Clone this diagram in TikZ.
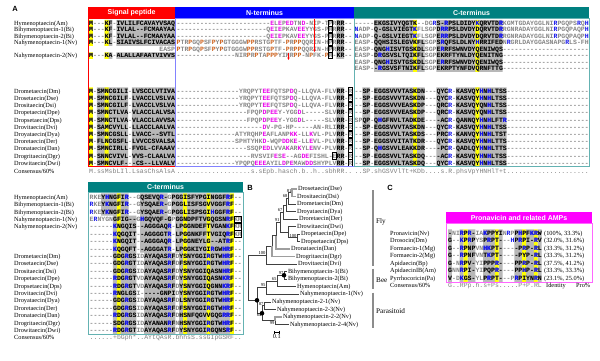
\documentclass[tikz,border=0pt]{standalone}
\usepackage{fontspec}
\setmainfont{Liberation Serif}
\setsansfont{Liberation Sans}
\setmonofont{Liberation Mono}
\usetikzlibrary{arrows.meta}

\definecolor{sigred}{RGB}{255,0,0}
\definecolor{ntblue}{RGB}{0,0,255}
\definecolor{ntline}{RGB}{130,130,255}
\definecolor{ctteal}{RGB}{0,128,128}
\definecolor{ctline}{RGB}{100,178,178}
\definecolor{ampmag}{RGB}{255,0,255}
\definecolor{shadegray}{RGB}{184,184,184}
\definecolor{consyel}{RGB}{255,255,0}
\definecolor{accmag}{RGB}{235,0,235}
\definecolor{basblue}{RGB}{20,20,235}
\definecolor{probrown}{RGB}{205,95,25}

% residue colours
\newcommand\cm[1]{\textcolor{accmag}{#1}}
\newcommand\cb[1]{\textcolor{basblue}{#1}}
\newcommand\co[1]{\textcolor{probrown}{#1}}
\def\seqrep#1#2{\ifnum#1>0 #2\expandafter\seqrep\expandafter{\the\numexpr#1-1\relax}{#2}\fi}
\newcommand\dsh[1]{\seqrep{#1}{-}}
\newcommand\dts[1]{\seqrep{#1}{.}}
\newcommand\pw{3.9}

\newcommand\seqfont{\fontsize{6.5bp}{7bp}\selectfont\ttfamily\bfseries}
\newcommand\consfont{\fontsize{6.5bp}{7bp}\selectfont\ttfamily}
\newcommand\labfont{\fontsize{6.3bp}{7bp}\selectfont\rmfamily}
\newcommand\hdrfont{\fontsize{7bp}{8bp}\selectfont\sffamily\bfseries}
\newcommand\panelfont{\fontsize{7.5bp}{8bp}\selectfont\sffamily\bfseries}
\newcommand\bootfont{\fontsize{4.6bp}{5bp}\selectfont\rmfamily}
\newcommand\cladefont{\fontsize{7.2bp}{8bp}\selectfont\rmfamily}

\newcommand\putrows[4]{\foreach \yy/\sq [count=\rk] in #1 {\node[#2] (#3\rk) at (#4,\yy+2.2) {\sq};}}

\tikzset{
  seqbase/.style={anchor=base west, inner sep=0pt, font=\seqfont, text=black!48},
  seqdark/.style={seqbase, text=black},
  seqcons/.style={anchor=base west, inner sep=0pt, font=\consfont, text=black!50},
  lab/.style={anchor=base west, inner sep=0pt, font=\labfont},
  hdr/.style={inner sep=0pt, font=\hdrfont, text=white, minimum height=11bp},
  plabel/.style={inner sep=0pt, font=\panelfont},
  leaf/.style={anchor=west, inner sep=0.8bp, font=\labfont},
  boot/.style={anchor=south east, inner sep=0.4bp, font=\bootfont},
  bootlow/.style={boot, anchor=north east},
  branch/.style={draw=black!75, line width=0.6bp},
  lightbranch/.style={draw=black!38, line width=1.1bp},
  cladebar/.style={draw=black!45, line width=1.2bp},
  clade/.style={anchor=west, inner sep=0pt, font=\cladefont},
  node dot/.style={circle, fill=black, inner sep=0pt, minimum size=4.6bp},
  cellbox/.style={draw=black, line width=0.45bp},
  cutarrow/.style={-{Stealth[length=2.6bp,width=2.4bp]}, draw=red, line width=0.6bp},
}

% shaded columns: x0/first col/last col/top/bottom
\def\grayList{89/4/5/19.75/45.75, 89/7/21/19.75/45.75, 89/4/5/52.25/58.75, 89/7/21/52.25/58.75,
89/2/9/87.4/166.6, 89/11/21/87.4/166.6,
176.5/41/42/19.75/58.75, 176.5/41/42/87.4/166.6,
354.5/5/14/19.75/39.25, 354.5/21/37/19.75/39.25,
354.5/5/17/39.25/71.75, 354.5/21/37/39.25/71.75,
354.5/2/3/87.4/166.6, 354.5/5/17/87.4/166.6, 354.5/21/23/87.4/166.6, 354.5/26/38/87.4/166.6,
89.5/3/9/193.3/215.5, 89.5/13/19/193.3/215.5, 89.5/21/35/193.3/215.5,
89.5/6/11/215.5/252.5, 89.5/13/20/215.5/252.5, 89.5/22/35/215.5/252.5,
89.5/6/11/252.5/333.9, 89.5/14/21/252.5/333.9, 89.5/23/35/252.5/333.9,
448/0/0/229.25/281.75, 448/3/3/229.25/281.75, 448/5/6/229.25/281.75, 448/9/11/229.25/281.75,
448/13/13/229.25/281.75, 448/17/18/229.25/281.75, 448/20/21/229.25/281.75, 448/23/23/229.25/281.75}
\def\yelList{89/0/0/19.75/45.75, 89/4/4/19.75/45.75, 89/0/0/52.25/58.75, 89/4/4/52.25/58.75,
89/0/0/87.4/166.6, 89/4/4/87.4/166.6,
354.5/15/15/19.75/71.75, 354.5/31/31/19.75/71.75, 354.5/15/15/87.4/166.6, 354.5/31/31/87.4/166.6,
89.5/7/7/193.3/333.9, 89.5/24/24/193.3/333.9, 89.5/30/30/193.3/333.9, 89.5/36/36/193.3/333.9,
448/4/4/229.25/281.75, 448/12/12/229.25/281.75, 448/19/19/229.25/281.75, 448/22/22/229.25/281.75}

% signal peptide
\def\blkA{23/M---KF-IVLILFCAVAYVSAQ,
29.5/M---KF-IVLAL--FCMAAYAA,
36/M---KF-IVLAL--FCMAAYAA,
42.5/M---KL-SIAIVSLFCIVACAS,
55.5/M---KA-ALALLAFAATVIVVS,
91/M-SMNCGILI-LVSCCLVTIVA,
98.2/M-SMNCGILF-LVACCLVSLVA,
105.4/M-SMNCGILF-LVACCLVSLVA,
112.6/M-SMNCTLVA-VLACCLALVSA,
119.8/M-SMNCTLVA-VLACCLAVVSA,
127/M-SAMCVYLL-LLACCLAALVA,
134.2/M-SMNCGSLL-LVACC--SVTL,
141.4/M-FLNCGSFL-LVVCCSVALSA,
148.6/M-SMNCIRLL-FVGL-CFAAAV,
155.8/M-SNNCVIVL-VVS-CLAALVA,
163/M-SMNCVLF---CS--LLVALV}

% N-terminus
\def\blkB{23/\dsh{24}\cm{E}L\cm{E}P\cm{ED}TN\cm{D}-NIP-TPRRR--,
29.5/\dsh{23}Q\cm{E}I\cm{E}PKAV\cm{EE}YYGS-PRRRR--,
36/\dsh{23}Q\cm{E}I\cm{E}PKAV\cm{EE}YYGS-PRRRR--,
42.5/\co{P}TR\co{P}GQ\co{P}SF\co{P}Y\co{P}GTGGGW\co{PP}RSTG\co{P}TF-\co{P}R\co{PP}QQRIN-HPRRR--,
49/\co{P}TR\co{P}GQ\co{P}SF\co{P}Y\co{P}GTGGGW\co{PP}RSTG\co{P}TF-\co{P}R\co{PP}QQRIN-HPRRR--,
55.5/\dsh{15}NIR\co{P}R\co{P}TA\co{PPP}YINR\co{PP}-N\co{P}FK-\co{P}R-KR--,
91/\dsh{16}YRQPYT\cm{EE}FQTSP\cm{D}Q-LLQVA-FLVRR-R,
98.2/\dsh{16}YRQPYT\cm{EE}FQTSP\cm{D}Q-LLQVA-FLVRR-R,
105.4/\dsh{16}YRQPYT\cm{EE}FQTSP\cm{D}Q-LLQVA-FLVRR-R,
112.6/\dsh{18}FPQP\cm{D}P\cm{EE}Y-YGG\cm{D}L-----SLVRR-R,
119.8/\dsh{18}FPQP\cm{D}P\cm{EE}Y-YGG\cm{D}L-----SLVRR-R,
127/\dsh{22}\cm{D}V-PG-HP-----AN-RLIRR-R,
134.2/\dsh{15}ATYRQHP\cm{E}AFLANP\cm{KK}-LL\cm{K}VL-PLVRR-R,
141.4/\dsh{15}SPHTYHK\cm{D}-WQP\cm{DD}K\cm{E}-LL\cm{E}VL-PLVRR-R,
148.6/\dsh{18}SSQP\cm{ED}LVVA\cm{K}AR\cm{K}YL\cm{E}NV-PLVRR-R,
155.8/\dsh{19}RVSVIF\cm{E}S\cm{E}--AG\cm{DE}FISHL-ERR-R,
163/\dsh{15}YPQPQ\cm{EEE}AYIL\cm{D}P\cm{E}MAW\cm{DD}SHYPLVRR-R}

% C-terminus, upper part
\def\blkC{23/\dsh{5}EKGSIVYQGTK--DG\cb{R}S-\cb{R}PSLDIDY\cb{K}QRVTD\cb{R}KGMTGDAYGGLNI\cb{R}PGQPS\cb{R}Q\cb{H},
29.5/\cb{N}ADP-Q-GSLVIEGT\cb{K}FLSGPD\cb{RR}PSLDVDYDQRVTD\cb{R}RGNRADAYGGLNI\cb{R}PGQPAQP\cb{H},
36/\cb{N}ADP-Q-GSLVIEGT\cb{K}FLSGPE\cb{RR}PSLDVDYDQRVTD\cb{R}RGNRADAYGGLNI\cb{R}PGQPAQP\cb{H},
42.5/EASP-QQHSISLEGVKFLSGPS\cb{R}QFSLDLNY\cb{H}RRIFEDN\cb{R}GRLDAYGGASNAPG\cb{R}LS-FH,
49/EASP-QNG\cb{H}ISVTGSKDLSGPE\cb{R}RFSWNVDYQENIWQS\dsh{22},
55.5/EASP-D\cb{R}GSVSLTQIKFLSGPEKRFTYNLDYQENITNG\dsh{22},
62/EASP-QNG\cb{H}ISVTGSKDLSGPE\cb{R}RFSWNVDYQENIWQS\dsh{22},
68.5/EASP--\cb{R}GSVSFTNIKFLSGPEKRPTYNFDVQRNFTTG\dsh{22},
91/--SP-EGGSVVVTASKDN---QYC\cb{R}-KASVQY\cb{H}N\cb{H}LTSS\dsh{21},
98.2/--SP-EGGSVVVTASKDN---QYC\cb{R}-KASVQY\cb{H}N\cb{H}LTSS\dsh{21},
105.4/--SP-EGGSVVVEASKDP---QRC\cb{R}-KASVQYQN\cb{H}LTSS\dsh{21},
112.6/--SP-EGGSVVVEASKDP---QRC\cb{R}-KASVQYQN\cb{H}LTSS\dsh{21},
119.8/SPQP-Q\cb{H}GFNVLTADKDE----AC\cb{R}-QANNQY\cb{H}N\cb{H}LFT\cb{R}\dsh{21},
127/--SP-EGGSVVVTASKDN---QYC\cb{R}-KASVQY\cb{H}N\cb{H}LTSS\dsh{21},
134.2/--SP-EGGSVVLTASKDS---PRC\cb{R}-KANVQY\cb{H}N\cb{H}LTST\dsh{21},
141.4/--SP-EGGSVVITATKDR---QYC\cb{R}-KASVQY\cb{H}N\cb{H}LTTS\dsh{21},
148.6/--SP-Q\cb{H}GSVVLEAKKDR----PC\cb{R}-QADLQY\cb{H}N\cb{H}LTTS\dsh{21},
155.8/--SP-EGGSVVLTASKDQ----AC\cb{R}-KASVQY\cb{H}N\cb{H}LTSS\dsh{21},
163/--SP-EGGSVVLTASKDQ---QYC\cb{R}-KASVQY\cb{H}N\cb{H}LTSS\dsh{21}}

% C-terminus, lower part
\def\blkD{197/RKEY\cb{H}NGFI\cb{R}--GQSEVQ\cb{R}-GPGGISFYPGINGGF\cb{R}F--,
204.4/\cb{R}KEY\cb{K}NGFI\cb{R}--GYSQAE\cb{R}-GPGGLISFSGVVGGF\cb{R}F--,
211.8/\cb{R}KEY\cb{K}NGFI\cb{R}--GYSQAE\cb{R}-GPGGLISPSGI\cb{H}GGF\cb{R}F--,
219.2/E\cb{R}NYGNGFIG--G\cb{H}GQVQF-GPGGNDPFTVGQGSN\cb{R}FKR,
226.6/\dsh{6}\cb{K}NGQIS--AGGGAQ\cb{R}-LPGGNDEFTVGAN\cb{K}FKR,
234/\dsh{6}\cb{K}QGQIT--AGGGGT\cb{R}-LPGGNKFFTVGIQ\cb{R}FKR,
241.4/\dsh{6}\cb{K}NGQIT--AGGGAQ\cb{R}-LPGGNEYLG--AT\cb{R}F--,
248.8/\dsh{6}\cb{K}QGQFT--AGGGAT\cb{R}-LPGGKIYGI\cb{R}GW\cb{HR}F--,
256.2/\dsh{6}GDG\cb{R}GSIDAYAQAS\cb{R}FDYSNYGGI\cb{R}GTW\cb{HR}F--,
263.6/\dsh{6}GDG\cb{R}GTIDAYAQAS\cb{R}FDFSNYGGI\cb{R}GTW\cb{HR}F--,
271/\dsh{6}GDG\cb{R}GSIDAYAQAS\cb{R}FDYSNYGGIQASN\cb{HR}F--,
278.4/\dsh{6}\cb{R}DG\cb{R}GTVDAYAQAS\cb{R}FDYSNYGGIQASN\cb{KR}F--,
285.8/\dsh{6}\cb{R}DG\cb{R}GTVDAYAQAS\cb{R}FDYSNYGGIQGNN\cb{KR}F--,
293.2/\dsh{6}\cb{R}NGLGSI-----GNPIDYSNYGGI\cb{R}GTW\cb{HR}F--,
300.6/\dsh{6}GDG\cb{R}GSIDAYAQAS\cb{R}FDLSNYGGI\cb{R}GTW\cb{HR}F--,
308/\dsh{6}GDG\cb{R}GSIDAYAQAS\cb{R}FDFSNYGGI\cb{R}GTW\cb{HR}F--,
315.4/\dsh{6}\cb{R}DG\cb{R}GSIDAYAQAS\cb{R}FDHSNFQGVVGQG\cb{RR}F--,
322.8/\dsh{6}SDG\cb{R}GSIDAYANAN\cb{R}FNHSNYGGI\cb{R}GTW\cb{HR}F--,
330.2/\dsh{6}\cb{R}DG\cb{R}GTIDAYAQAS\cb{R}FDYSNYGGI\cb{R}GQNS\cb{R}F--}

% pronavicin and related AMPs
\def\blkE{233/-NI\cb{R}P\cb{R}-IA\cb{K}PPYIN\cb{R}PP\cb{H}PF\cb{KR}W,
240.5/G--\cb{K}P\cb{R}PYSP\cb{R}PT---\cb{H}P\cb{R}PI-\cb{R}V,
248/G--\cb{R}PNPVN\cb{HK}PT-----P\cb{R}P-\cb{R}L,
255.5/G--\cb{R}PNFVNT\cb{K}PT-----PYP-\cb{R}L,
263/G-N\cb{R}PV-YIPPP\cb{R}----PP\cb{R}P-\cb{R}L,
270.5/GNN\cb{R}PI-YIPQP\cb{R}----PP\cb{H}P-\cb{R}L,
278/V-D\cb{K}GS-YLP\cb{R}PT---P\cb{R}PIYN\cb{R}N}

\def\labTop{23/Hymenoptaecin(Am), 29.5/Bihymenoptaecin-1(Bi), 36/Bihymenoptaecin-2(Bi),
42.5/Nahymenoptaecin-1(Nv), 55.5/Nahymenoptaecin-2(Nv), 91/Drometaecin(Dm), 98.2/Drosetaecin(Dse),
105.4/Drositaecin(Dsi), 112.6/Dropetaecin(Dpe), 119.8/Dropsetaecin(Dps), 127/Drovitaecin(Dvi),
134.2/Droyataecin(Dya), 141.4/Droretaecin(Der), 148.6/Dronataecin(Dan), 155.8/Drogritaecin(Dgr),
163/Drowitaecin(Dwi)}
\def\labLow{197/Hymenoptaecin(Am), 204.4/Bihymenoptaecin-1(Bi), 211.8/Bihymenoptaecin-2(Bi),
219.2/Nahymenoptaecin-1(Nv), 226.6/Nahymenoptaecin-2(Nv), 256.2/Drometaecin(Dm), 263.6/Drosetaecin(Dse),
271/Drositaecin(Dsi), 278.4/Dropetaecin(Dpe), 285.8/Dropsetaecin(Dps), 293.2/Drovitaecin(Dvi),
300.6/Droyataecin(Dya), 308/Droretaecin(Der), 315.4/Dronataecin(Dan), 322.8/Drogritaecin(Dgr),
330.2/Drowitaecin(Dwi)}
\def\labAmp{233/Pronavicin(Nv), 240.5/Drosocin(Dm), 248/Formaecin-1(Mg), 255.5/Formaecin-2(Mg),
263/Apidaecin(Bp), 270.5/ApidaecinIB(Am), 278/Pyrrhocoricin(Pa)}

\begin{document}
\begin{tikzpicture}[x=1bp,y=-1bp]
\fill[white] (0,0) rectangle (600,360);
\useasboundingbox (0,0) rectangle (600,360);

% column shading
\fill[shadegray] \foreach \xo/\ca/\cz/\ya/\yb in \grayList {({\xo+\ca*\pw},\ya) rectangle ({\xo+(\cz+1)*\pw},\yb)};
\fill[consyel] \foreach \xo/\ca/\cz/\ya/\yb in \yelList {({\xo+\ca*\pw},\ya) rectangle ({\xo+(\cz+1)*\pw},\yb)};

% sequences
\putrows{\blkA}{seqbase}{sA}{89}
\putrows{\blkB}{seqbase}{sB}{176.5}
\putrows{\blkC}{seqbase}{sC}{354.5}
\putrows{\blkD}{seqbase}{sD}{89.5}
\putrows{\blkE}{seqbase}{sE}{448}
\node[seqbase] (easp) at ({89+18*\pw},51.2) {EASP};
\begin{scope}
  \clip \foreach \xo/\ca/\cz/\ya/\yb in \grayList {({\xo+\ca*\pw},\ya) rectangle ({\xo+(\cz+1)*\pw},\yb)}
        \foreach \xo/\ca/\cz/\ya/\yb in \yelList {({\xo+\ca*\pw},\ya) rectangle ({\xo+(\cz+1)*\pw},\yb)};
  \putrows{\blkA}{seqdark}{kA}{89}
  \putrows{\blkB}{seqdark}{kB}{176.5}
  \putrows{\blkC}{seqdark}{kC}{354.5}
  \putrows{\blkD}{seqdark}{kD}{89.5}
  \putrows{\blkE}{seqdark}{kE}{448}
\end{scope}

% consensus lines
\node[seqcons] (consA1) at (89,173.2) {M.ssMsbLIl.LsasChsAlsA};
\node[seqcons] (consA2) at (176.5,173.2) {\dts{19}s.sEpb.hasch.b..h..sbhRR..};
\node[seqcons] (consA3) at (354.5,173.2) {..SP.shGSVVlTt+KDb....s.R.phsVpYHNHlT+t\dts{21}};
\node[seqcons] (consD) at (89.5,339.8) {......+bGph*..AYtQAsR.bhhsS.ssGIpGSRF..};
\node[seqcons] (consE) at (448,287.7) {G..RPp.h.s+Ps.....P+P.RL};

% boxed residues
\foreach \yy in {23,29.5,36,42.5,49,55.5}
  \draw[cellbox] ({176.5+39*\pw},\yy-3.1) rectangle ++(\pw,6.2);
\foreach \yy in {91,98.2,105.4,112.6,119.8,127,134.2,141.4,148.6,155.8,163}
  \draw[cellbox] ({176.5+44*\pw},\yy-3.3) rectangle ++(\pw,6.6);
\draw[cellbox] ({176.5+40*\pw},152.5) rectangle ++(\pw,6.6);
\foreach \yy in {219.2,226.6,234}
  \draw[cellbox] ({89.5+37*\pw},\yy-3.4) rectangle ++(2*\pw,6.8);

% cleavage arrows
\coordinate (cutA1) at (314.5,17.5);
\coordinate (cutA2) at (314.5,52);
\coordinate (cutB1) at (288.5,53);
\coordinate (cutB2) at (288.5,60);
\draw[cutarrow] (cutA1) -- (cutA2);
\draw[cutarrow] (cutB1) -- (cutB2);

% region frames and headers
\draw[sigred, line width=0.9bp] (88,18) rectangle (175.3,166.8);
\draw[ntline, line width=0.9bp] (175.3,18) rectangle (354,166.8);
\draw[ctline, line width=0.9bp] (354,18) rectangle (589,166.8);
\draw[ctline, line width=0.9bp] (88,192) rectangle (243,334.6);
\draw[ampmag!60, line width=0.9bp] (446,223) rectangle (592,282);
\node[hdr, fill=sigred, minimum width=87.3bp] (hSig) at (131.65,12.5) {Signal peptide};
\node[hdr, fill=ntblue, minimum width=178.7bp] (hNt) at (264.65,12.5) {N-terminus};
\node[hdr, fill=ctteal, minimum width=235bp] (hCt) at (471.5,12.5) {C-terminus};
\node[hdr, fill=ctteal, minimum width=155bp, minimum height=10.5bp] (hCt2) at (165.5,187) {C-terminus};
\node[hdr, fill=ampmag, minimum width=146bp] (hAmp) at (519,217.5) {Pronavicin and related AMPs};

% names
\foreach \yy/\tx [count=\rk] in \labTop {\node[lab] (nT\rk) at (14,\yy+2.2) {\tx};}
\node[lab] (nTc) at (14,173.2) {Consensus/60\%};
\foreach \yy/\tx [count=\rk] in \labLow {\node[lab] (nL\rk) at (14,\yy+2.2) {\tx};}
\node[lab] (nLc) at (14,339.8) {Consensus/60\%};
\foreach \yy/\tx [count=\rk] in \labAmp {\node[lab] (nA\rk) at (390,\yy+2.2) {\tx};}
\node[lab] (nAc) at (390,287.7) {Consensus/60\%};
\foreach \yy/\tx [count=\rk] in {233/{(100\%, 33.3\%)}, 240.5/{(32.0\%, 31.6\%)}, 248/{(33.3\%, 31.2\%)},
  255.5/{(33.3\%, 31.2\%)}, 263/{(37.5\%, 41.2\%)}, 270.5/{(33.3\%, 33.3\%)}, 278/{(23.1\%, 25.0\%)}}
  {\node[lab] (idt\rk) at (544,\yy+2.2) {\tx};}
\node[lab] (idHead) at (546,287.7) {Identity};
\node[lab] (proHead) at (576,287.7) {Pro\%};

% panel letters
\node[plabel] (pA) at (15,8.5) {A};
\node[plabel] (pB) at (250,188) {B};
\node[plabel] (pC) at (390,188) {C};

% tree
\foreach \nm/\xx/\yy/\tx in {lDse/297/189/Drosetaecin(Dse), lDsi/296/196.5/Drositaecin(Dsi),
  lDm/296/204/Drometaecin(Dm), lDya/296/211.5/Droyataecin(Dya), lDer/298/219/Droretaecin(Der),
  lDwi/296/226.5/Drowitaecin(Dwi), lDpe/300/234/Dropetaecin(Dpe), lDps/300/241.5/Dropsetaecin(Dps),
  lDan/290/249/Dronataecin(Dan), lDgr/295/256.5/Drogritaecin(Dgr), lDvi/297/264/Drovitaecin(Dvi),
  lBi1/287/271.5/Bihymenoptaecin-1(Bi), lBi2/287/279/Bihymenoptaecin-2(Bi), lAm/296/286.5/Hymenoptaecin(Am),
  lNv1/299/294/Nahymenoptaecin-1(Nv), lN21/271/302/Nahymenoptaecin-2-1(Nv), lN23/276/309.5/Nahymenoptaecin-2-3(Nv),
  lN22/282/317/Nahymenoptaecin-2-2(Nv), lN24/289/324.5/Nahymenoptaecin-2-4(Nv)}
  \node[leaf] (\nm) at (\xx,\yy) {\tx};
\foreach \nm/\xx/\yy in {n81/292/192.75, n68/288/198.4, nya/286/205, n67/283/212, np/297/237.75,
  nwp/288/232.1, n91/280/222, nan/276/235.5, ngr/272/246, nF/266/255, nB/284/275.25, n65/277/280.9,
  n95/266/287.4, n87/264/305.75, n99/275/320.75, n64/262/313.25, nH/257/300.3, tRoot/248/277.7}
  \coordinate (\nm) at (\xx,\yy);
\foreach \p/\c in {n68/n81, n68/lDm, nya/n68, nya/lDya, n67/nya, n67/lDer, np/lDpe, np/lDps,
  nwp/lDwi, nwp/np, n91/n67, n91/nwp, nan/n91, ngr/nan, nF/ngr, nF/lDvi, nB/lBi1, nB/lBi2,
  n65/nB, n65/lAm, n95/n65, n95/lNv1, n87/lN21, n87/lN23, n99/lN24, n64/n87, n64/n99,
  nH/n95, nH/n64, tRoot/nF, tRoot/nH}
  \draw[branch] (\p) |- (\c);
\foreach \p/\c in {n81/lDse, n81/lDsi, nan/lDan, ngr/lDgr, n99/lN22}
  \draw[lightbranch] (\p) |- (\c);
\foreach \nm in {nB,n64,nH} \node[node dot] (d\nm) at (\nm) {};
\foreach \nm/\v in {n81/81, n68/68, n67/67, n91/91, np/100, nF/100, nB/97, n65/65, n95/95, n87/87}
  \node[boot] (b\nm) at (\nm) {\v};
\foreach \nm/\v in {n64/64, n99/99} \node[bootlow] (b\nm) at (\nm) {\v};

% clade bars
\coordinate (cF1) at (373,190);   \coordinate (cF2) at (373,266);
\coordinate (cB1) at (373,268.5); \coordinate (cB2) at (373,289);
\coordinate (cP1) at (373,292.5); \coordinate (cP2) at (373,328);
\draw[cladebar] (cF1) -- (cF2);
\draw[cladebar] (cB1) -- (cB2);
\draw[cladebar] (cP1) -- (cP2);
\node[clade] (kFly) at (376,222) {Fly};
\node[clade] (kBee) at (376,280) {Bee};
\node[clade] (kPar) at (376,311) {Parasitoid};

% scale bar
\coordinate (sbL) at (274,332);
\coordinate (sbR) at (279.5,332);
\draw[{Bar[width=3bp]}-{Bar[width=3bp]}, line width=0.5bp] (sbL) -- (sbR);
\node[lab, anchor=north] (sbTxt) at (276.75,334.5) {0.1};
\end{tikzpicture}
\end{document}
